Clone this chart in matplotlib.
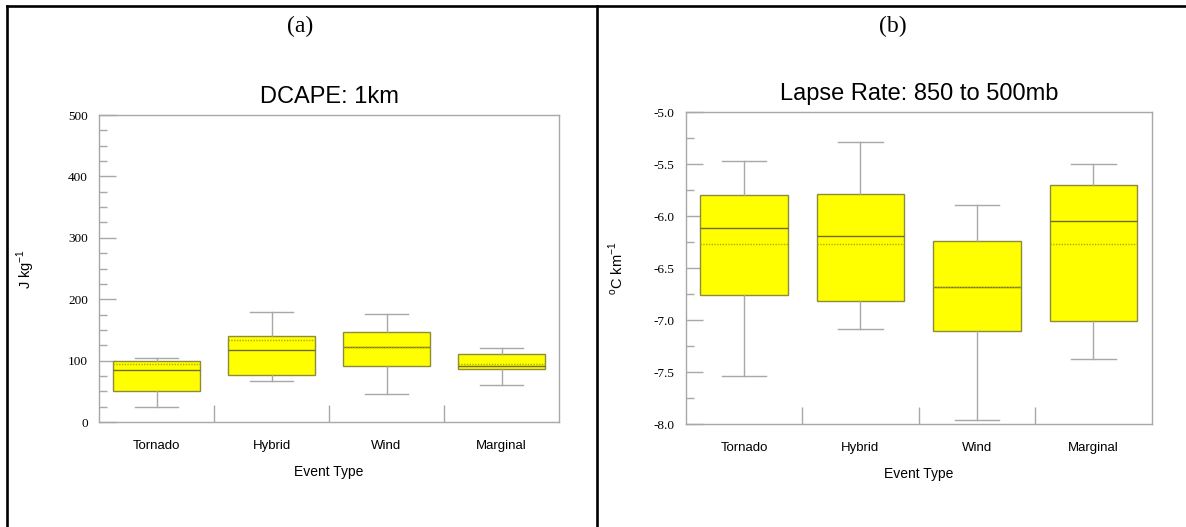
import matplotlib
matplotlib.use("Agg")
import matplotlib.pyplot as plt
from matplotlib.lines import Line2D

# Summary statistics per event type (whisker low, q1, median, q3, whisker high, mean)
events = ["Tornado", "Hybrid", "Wind", "Marginal"]

dcape_low = [25, 67, 46, 60]
dcape_q1 = [50, 77, 92, 86]
dcape_med = [85, 118, 123, 92]
dcape_q3 = [100, 140, 146, 110]
dcape_high = [104, 179, 176, 120]
dcape_mean = [94, 133, 123, 94]

lapse_low = [-7.54, -7.09, -7.96, -7.37]
lapse_q1 = [-6.76, -6.82, -7.10, -7.01]
lapse_med = [-6.11, -6.19, -6.68, -6.05]
lapse_q3 = [-5.80, -5.79, -6.24, -5.70]
lapse_high = [-5.47, -5.29, -5.89, -5.50]
lapse_mean = [-6.27, -6.27, -6.68, -6.27]

SANS = "Liberation Sans"
SERIF = "Liberation Serif"
GRAY = "#a8a8a8"


def make_stats(low, q1, med, q3, high, mean):
    return [dict(whislo=a, q1=b, med=c, q3=d, whishi=e, mean=f, fliers=[])
            for a, b, c, d, e, f in zip(low, q1, med, q3, high, mean)]


def draw_panel(ax, stats, title, ylabel, ylim, major, minor, fmt, ylabelpad):
    ax.bxp(stats, positions=range(1, len(stats) + 1), widths=0.75,
           patch_artist=True, showmeans=True, meanline=True,
           boxprops=dict(facecolor="#ffff00", edgecolor="#8c8c3c", linewidth=1.0),
           medianprops=dict(color="#6e6e28", linewidth=1.0),
           meanprops=dict(color="#b4a800", linestyle=(0, (1, 1)), linewidth=1.0),
           whiskerprops=dict(color=GRAY, linewidth=1.0),
           capprops=dict(color=GRAY, linewidth=1.0),
           capwidths=0.38)
    ax.set_xlim(0.5, len(stats) + 0.5)
    ax.set_ylim(*ylim)
    for s in ax.spines.values():
        s.set_color(GRAY)
        s.set_linewidth(1.0)

    # category labels without ticks, separator ticks between categories
    ax.set_xticks(range(1, len(stats) + 1))
    ax.set_xticklabels(events, fontfamily=SANS, fontsize=9.5)
    ax.set_xticks([1.5, 2.5, 3.5], minor=True)
    ax.tick_params(axis="x", which="major", length=0, pad=13)
    ax.tick_params(axis="x", which="minor", direction="in", length=12,
                   color=GRAY, width=1.0)

    ax.set_yticks(major)
    ax.set_yticklabels([fmt.format(v) for v in major], fontfamily=SERIF,
                       fontsize=9.5)
    ax.set_yticks(minor, minor=True)
    ax.tick_params(axis="y", which="major", direction="in", length=12,
                   color=GRAY, width=1.0, pad=8)
    ax.tick_params(axis="y", which="minor", direction="in", length=6,
                   color=GRAY, width=1.0)

    ax.set_title(title, fontfamily=SANS, fontsize=17, pad=9)
    ax.set_xlabel("Event Type", fontfamily=SANS, fontsize=10, labelpad=9)
    ax.set_ylabel(ylabel, fontfamily=SANS, fontsize=10.5, labelpad=ylabelpad)


fig = plt.figure(figsize=(11.86, 5.27), dpi=100)

ax_a = fig.add_axes([0.0835, 0.1992, 0.3879, 0.5825])
draw_panel(ax_a,
           make_stats(dcape_low, dcape_q1, dcape_med, dcape_q3, dcape_high, dcape_mean),
           "DCAPE: 1km", "J kg$^{\\mathregular{-1}}$", (0, 500),
           [0, 100, 200, 300, 400, 500],
           [v for v in range(0, 501, 25) if v % 100], "{:.0f}", 22)

ax_b = fig.add_axes([0.5782, 0.1954, 0.3929, 0.5915])
draw_panel(ax_b,
           make_stats(lapse_low, lapse_q1, lapse_med, lapse_q3, lapse_high, lapse_mean),
           "Lapse Rate: 850 to 500mb", "$^{\\mathregular{o}}$C km$^{\\mathregular{-1}}$",
           (-8.0, -5.0),
           [-8.0, -7.5, -7.0, -6.5, -6.0, -5.5, -5.0],
           [-7.75, -7.25, -6.75, -6.25, -5.75, -5.25], "{:.1f}", 20)

# panel letters and the table frame around the two panels
fig.text(0.253, 0.950, "(a)", ha="center", va="center", fontfamily=SERIF, fontsize=17)
fig.text(0.753, 0.950, "(b)", ha="center", va="center", fontfamily=SERIF, fontsize=17)
frame = dict(color="black", linewidth=1.9, solid_capstyle="projecting")
fig.add_artist(Line2D([0.0059, 1.0], [0.9886, 0.9886], **frame))
fig.add_artist(Line2D([0.0059, 0.0059], [0.0, 0.9886], **frame))
fig.add_artist(Line2D([0.5034, 0.5034], [0.0, 0.9886], **frame))

fig.savefig("out.png", dpi=100)
